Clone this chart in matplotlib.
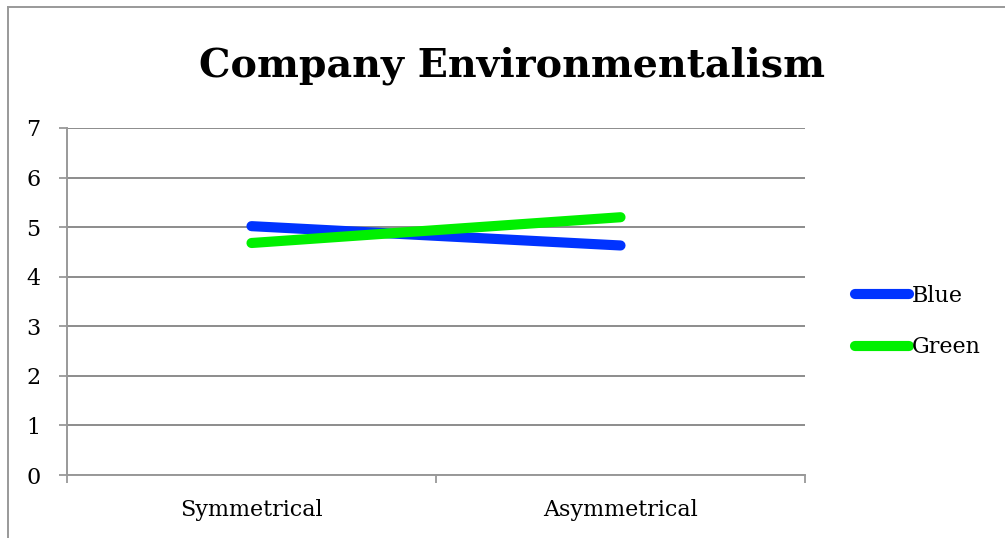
import matplotlib.pyplot as plt
from matplotlib.lines import Line2D

# series values per condition
categories = ['Symmetrical', 'Asymmetrical']
blue_vals = [5.02, 4.63]
green_vals = [4.68, 5.20]
series_names = ['Blue', 'Green']
series_colors = ['#0033ff', '#00f000']

W, H = 1005, 538
fig = plt.figure(figsize=(W / 100, H / 100), dpi=100)
plt.rcParams['font.family'] = ['DejaVu Serif']

ax = fig.add_axes([67 / W, 1 - 475 / H, (805 - 67) / W, (475 - 128) / H])

xs = [0.5, 1.5]
handles = []
for vals, name, col in zip([blue_vals, green_vals], series_names, series_colors):
    ln, = ax.plot(xs, vals, color=col, lw=7.3, solid_capstyle='round', label=name, zorder=3)
    handles.append(ln)

ax.set_xlim(0, 2)
ax.set_ylim(0, 7)
ax.set_yticks(range(0, 8))
ax.set_xticks([0, 1, 2])
ax.set_xticklabels([])
ax.set_xticks(xs, minor=True)
ax.set_xticklabels(categories, minor=True)
ax.tick_params(axis='x', which='minor', length=0, pad=17, labelsize=16)
ax.tick_params(axis='x', which='major', length=6, width=1.3, color='#999999', direction='out')
ax.tick_params(axis='y', length=6, width=1.3, color='#999999', pad=13, labelsize=16)
ax.yaxis.grid(True, color='#8c8c8c', lw=1.4)
ax.set_axisbelow(True)
for s in ['top', 'right']:
    ax.spines[s].set_visible(False)
for s in ['left', 'bottom']:
    ax.spines[s].set_color('#999999')
    ax.spines[s].set_linewidth(1.4)

fig.text(512 / W, 1 - 66 / H, 'Company Environmentalism', ha='center', va='center',
         fontsize=28.5, fontweight='bold')

leg = fig.legend(handles=handles, loc='upper left', bbox_to_anchor=(846 / W, 1 - 276 / H),
                 frameon=False, fontsize=16, handlelength=2.45, handletextpad=0.1,
                 labelspacing=1.33, borderaxespad=0)

# outer frame, only top and left edges show
fig.add_artist(Line2D([8 / W, 1], [1 - 7 / H, 1 - 7 / H], color='#999999', lw=1.4,
                      transform=fig.transFigure))
fig.add_artist(Line2D([8 / W, 8 / W], [0, 1 - 7 / H], color='#999999', lw=1.4,
                      transform=fig.transFigure))

fig.savefig('out.png', dpi=100)
